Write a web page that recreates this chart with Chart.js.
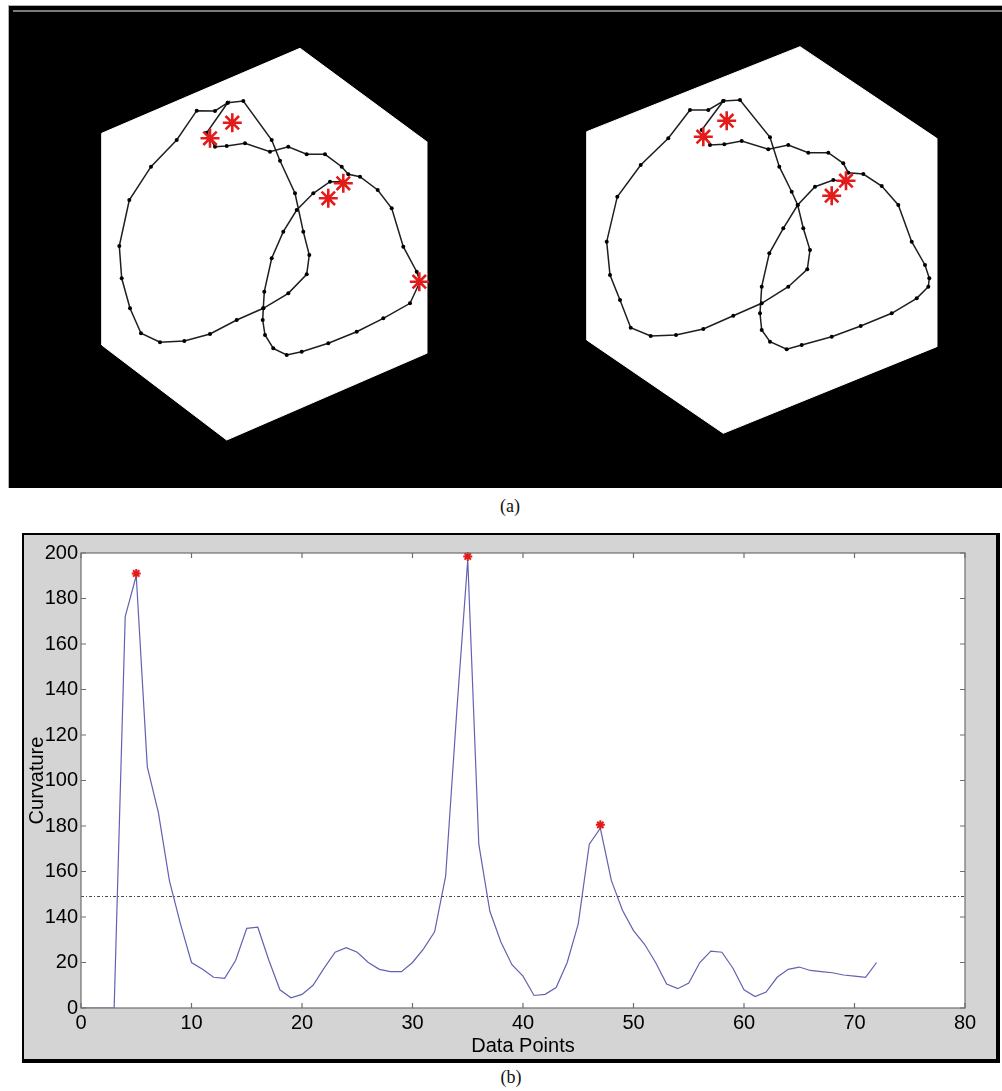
<!DOCTYPE html>
<html>
<head>
<meta charset="utf-8">
<script src="https://cdn.jsdelivr.net/npm/chart.js@4.4.1/dist/chart.umd.min.js"></script>
<style>
  html, body { margin: 0; padding: 0; background: #fff; }
  body { width: 1002px; height: 1091px; position: relative; overflow: hidden; font-family: "Liberation Sans", Arial, sans-serif; }
  #panelA { position: absolute; left: 8px; top: 5px; width: 994px; height: 483px; background: #000;
            border-top: 1px solid #b0b0b0; border-left: 1px solid #b0b0b0; box-sizing: border-box; }
  #panelA .rule { position: absolute; left: 4px; right: 0; top: 4px; height: 2px; background: #7a7a7a; }
  .fig { position: absolute; top: 30px; width: 380px; height: 430px; }
  #figL { left: 80px; }
  #figR { left: 570px; }
  .cap { position: absolute; width: 60px; text-align: center; font-family: "Liberation Serif", "DejaVu Serif", serif; font-size: 18px; color: #111; }
  #capA { left: 480px; top: 496px; }
  #capB { left: 481px; top: 1067px; }
  #boxB { position: absolute; left: 22px; top: 533px; width: 972px; height: 524px; background: #d4d4d4;
          border-style: solid; border-color: #000; border-width: 2px 4px 4px 2px; }
  #chartB { position: absolute; left: 0; top: 0; }
</style>
</head>
<body>
<div id="panelA"><div class="rule"></div></div>
<canvas id="figL" class="fig" width="380" height="430"></canvas>
<canvas id="figR" class="fig" width="380" height="430"></canvas>
<div id="capA" class="cap">(a)</div>
<div id="boxB"><canvas id="chartB" width="972" height="524"></canvas></div>
<div id="capB" class="cap">(b)</div>

<script>
// ---------------- Panel (a): shapes, in figure units (x right, y down) ----------------
const leftHexagon = [[220,18.3],[346.7,111.7],[346.7,323.3],[146.7,410],[21.7,315],[21.7,103.3]];
const leftContour = [
  [261.7,151.7],[250,151.7],[233.3,163.3],[216.7,180],[203.3,201.7],[191.7,228.3],[184.3,261.7],[183.3,278.3],
  [182.7,290],[185,305],[193.3,318.3],[206.7,325],[221.7,321.7],[248.3,313.3],[276.7,301.7],[303.3,288.3],
  [330,273.3],[340,251.7],[336.7,241.7],[323.3,216.7],[311.7,178.3],[297.7,160],[280,146.7],[268.3,144.3],
  [261.7,136.7],[245,124.3],[226.7,124.3],[208.3,116.7],[190,121.7],[165,113.3],[146.7,116],[135,116.7],
  [126.7,102.7],[147.7,72.7],[135,81],[116.7,80.7],[96.7,110],[71,136.7],[49.3,170],[39.3,216],
  [41.7,248.3],[50,278.3],[61,303.3],[80,312.3],[104.3,311],[130,304],[156.7,290],[183.3,278.3],
  [208.3,263.3],[226.7,244.3],[229.3,225],[223.3,201.7],[215,163.3],[200,130.7],[191.7,110],[163.3,71],[147.7,72.7]
];
const leftCorners = [[152.3,92.7],[130,108.3],[263.3,153.3],[248.3,168.3],[339.3,251.7]];

const rightHexagon = [[230,16.7],[366.7,108.3],[366.7,316.7],[153.3,403.3],[16.7,310],[16.7,101.7]];
const rightContour = [
  [273.3,151.7],[263.3,150],[245,156.7],[227.7,175],[213.3,198.3],[199.3,223.3],[191.7,256.7],[190,283.3],
  [191.7,300],[200,311.7],[216.7,319.3],[231.7,315],[261.7,306.7],[290.7,296],[321.7,283.3],[346.7,268.3],
  [358.3,256.7],[359.3,248.3],[355,235],[341.7,211.7],[328.3,175],[311.7,156],[293.3,144],[278.3,142.7],
  [273.3,133.3],[258.3,122.7],[238.3,122.7],[218.3,115],[198.3,119.3],[171.7,111],[154.3,114.3],[140,115],
  [131.7,100],[153.3,71],[138.3,80],[120,80],[98.3,108.3],[70.7,135],[47.3,166.7],[36.7,211.7],
  [40,245],[50,270],[60.7,297.7],[80.7,306],[106,305],[133.3,299],[163.3,285.7],[191.7,273.3],
  [218.3,256.7],[237.3,239.3],[240,220],[233.3,198.3],[227.7,175],[221.7,161.7],[209.3,136.7],[200,107.3],[170,70],[153.3,71]
];
const rightCorners = [[156.7,90.7],[133.3,106.7],[276,150.7],[261.7,165.7]];

// ---------------- Panel (b): curvature data ----------------
const dataPoints = [];
for (let i = 0; i <= 72; i++) dataPoints.push(i);
const curvature = [
  0, 0, 0, 0, 172, 190, 106, 86, 56, 37,
  20, 17, 13.5, 13, 21, 35, 35.5, 21, 8, 4.5,
  6, 10, 17.5, 24.5, 26.5, 24.5, 20, 17, 16, 16,
  20, 26, 33.5, 58, 130, 197, 72, 42.5, 29, 19,
  14, 5.5, 6, 9, 20, 37, 72, 79, 56, 43,
  34, 28, 20, 10.5, 8.5, 11, 20, 25, 24.5, 17.5,
  8, 5, 7, 13.5, 17, 18, 16.5, 16, 15.5, 14.5,
  14, 13.5, 20
];
const peakX = [5, 35, 47];
const peakY = [191, 198.5, 80.5];
const thresholdValue = 49;
const thresholdRange = [0, 80];
const xTickValues = [0, 10, 20, 30, 40, 50, 60, 70, 80];
const yTickValues = [0, 20, 40, 60, 80, 100, 120, 140, 160, 180, 200];
const yTickLabels = ['0', '20', '140', '160', '180', '100', '120', '140', '160', '180', '200'];

const toXY = arr => arr.map(p => ({x: p[0], y: p[1]}));

function makeFigure(id, hex, contour, corners) {
  new Chart(document.getElementById(id), {
    type: 'scatter',
    data: {
      datasets: [
        { order: 3, data: toXY(hex.concat([hex[0]])), showLine: true, fill: 'shape', backgroundColor: '#ffffff',
          borderColor: '#ffffff', borderWidth: 1, pointRadius: 0, tension: 0 },
        { order: 2, data: toXY(contour), showLine: true, fill: false, borderColor: '#1e1e1e', borderWidth: 1.5,
          pointRadius: 2, pointBackgroundColor: '#000', pointBorderColor: '#000', pointBorderWidth: 0, tension: 0 },
        { order: 1, data: toXY(corners), showLine: false, pointStyle: 'star', pointRadius: 9.5,
          pointBorderColor: '#e41b1b', pointBorderWidth: 2.6, pointBackgroundColor: '#e41b1b' }
      ]
    },
    options: {
      responsive: false, animation: false, events: [],
      layout: { padding: 0, autoPadding: false },
      plugins: { legend: { display: false }, tooltip: { enabled: false } },
      scales: {
        x: { type: 'linear', min: 0, max: 380, display: false },
        y: { type: 'linear', min: 0, max: 430, reverse: true, display: false }
      }
    }
  });
}
makeFigure('figL', leftHexagon, leftContour, leftCorners);
makeFigure('figR', rightHexagon, rightContour, rightCorners);

// ---------------- Chart (b) ----------------
const matlabAxes = {
  id: 'matlabAxes',
  beforeDatasetsDraw(chart) {
    const {ctx, chartArea: a} = chart;
    ctx.save();
    ctx.fillStyle = '#ffffff';
    ctx.fillRect(a.left, a.top, a.right - a.left, a.bottom - a.top);
    ctx.restore();
  },
  afterDatasetsDraw(chart) {
    const {ctx, chartArea: a, scales: {x, y}} = chart;
    ctx.save();
    ctx.strokeStyle = '#6e6e6e';
    ctx.lineWidth = 1.2;
    ctx.strokeRect(a.left, a.top, a.right - a.left, a.bottom - a.top);
    ctx.beginPath();
    const L = 5;
    x.ticks.forEach(t => {
      const px = x.getPixelForValue(t.value);
      ctx.moveTo(px, a.bottom); ctx.lineTo(px, a.bottom - L);
      ctx.moveTo(px, a.top); ctx.lineTo(px, a.top + L);
    });
    y.ticks.forEach(t => {
      const py = y.getPixelForValue(t.value);
      ctx.moveTo(a.left, py); ctx.lineTo(a.left + L, py);
      ctx.moveTo(a.right, py); ctx.lineTo(a.right - L, py);
    });
    ctx.stroke();
    ctx.restore();
  }
};

const axisFont = { family: '"Liberation Sans", Arial, sans-serif', size: 20 };

new Chart(document.getElementById('chartB'), {
  type: 'scatter',
  data: {
    datasets: [
      { order: 3, data: dataPoints.map((v, i) => ({x: v, y: curvature[i]})), showLine: true, borderColor: '#6262b0',
        borderWidth: 1.2, pointRadius: 0, tension: 0, fill: false },
      { order: 2, data: thresholdRange.map(v => ({x: v, y: thresholdValue})), showLine: true, borderColor: '#4a4a4a',
        borderWidth: 1, borderDash: [3, 2, 1, 2], pointRadius: 0, fill: false },
      { order: 1, data: peakX.map((v, i) => ({x: v, y: peakY[i]})), showLine: false, pointStyle: 'star', pointRadius: 4.5,
        pointBorderColor: '#e41b1b', pointBorderWidth: 2, pointBackgroundColor: '#e41b1b', clip: false }
    ]
  },
  options: {
    responsive: false, animation: false, events: [],
    layout: { padding: { left: 0, top: 18, right: 31, bottom: 0 }, autoPadding: false },
    plugins: { legend: { display: false }, tooltip: { enabled: false } },
    scales: {
      x: {
        type: 'linear', min: 0, max: 80,
        afterFit: s => { s.height = 51; },
        afterBuildTicks: s => { s.ticks = xTickValues.map(v => ({value: v})); },
        grid: { display: false, drawTicks: false },
        border: { display: false },
        ticks: { color: '#000', font: axisFont, padding: 3, maxRotation: 0, autoSkip: false },
        title: { display: true, text: 'Data Points', color: '#000', font: axisFont, padding: { top: 0, bottom: 1 } }
      },
      y: {
        type: 'linear', min: 0, max: 200,
        afterFit: s => { s.width = 57; },
        afterBuildTicks: s => { s.ticks = yTickValues.map(v => ({value: v})); },
        grid: { display: false, drawTicks: false },
        border: { display: false },
        ticks: { color: '#000', font: axisFont, padding: 3, autoSkip: false,
                 callback: v => { const i = yTickValues.indexOf(v); return i >= 0 ? yTickLabels[i] : ''; } },
        title: { display: true, text: 'Curvature', color: '#000', font: axisFont, padding: { top: 1, bottom: 0 } }
      }
    }
  },
  plugins: [matlabAxes]
});
</script>
</body>
</html>
